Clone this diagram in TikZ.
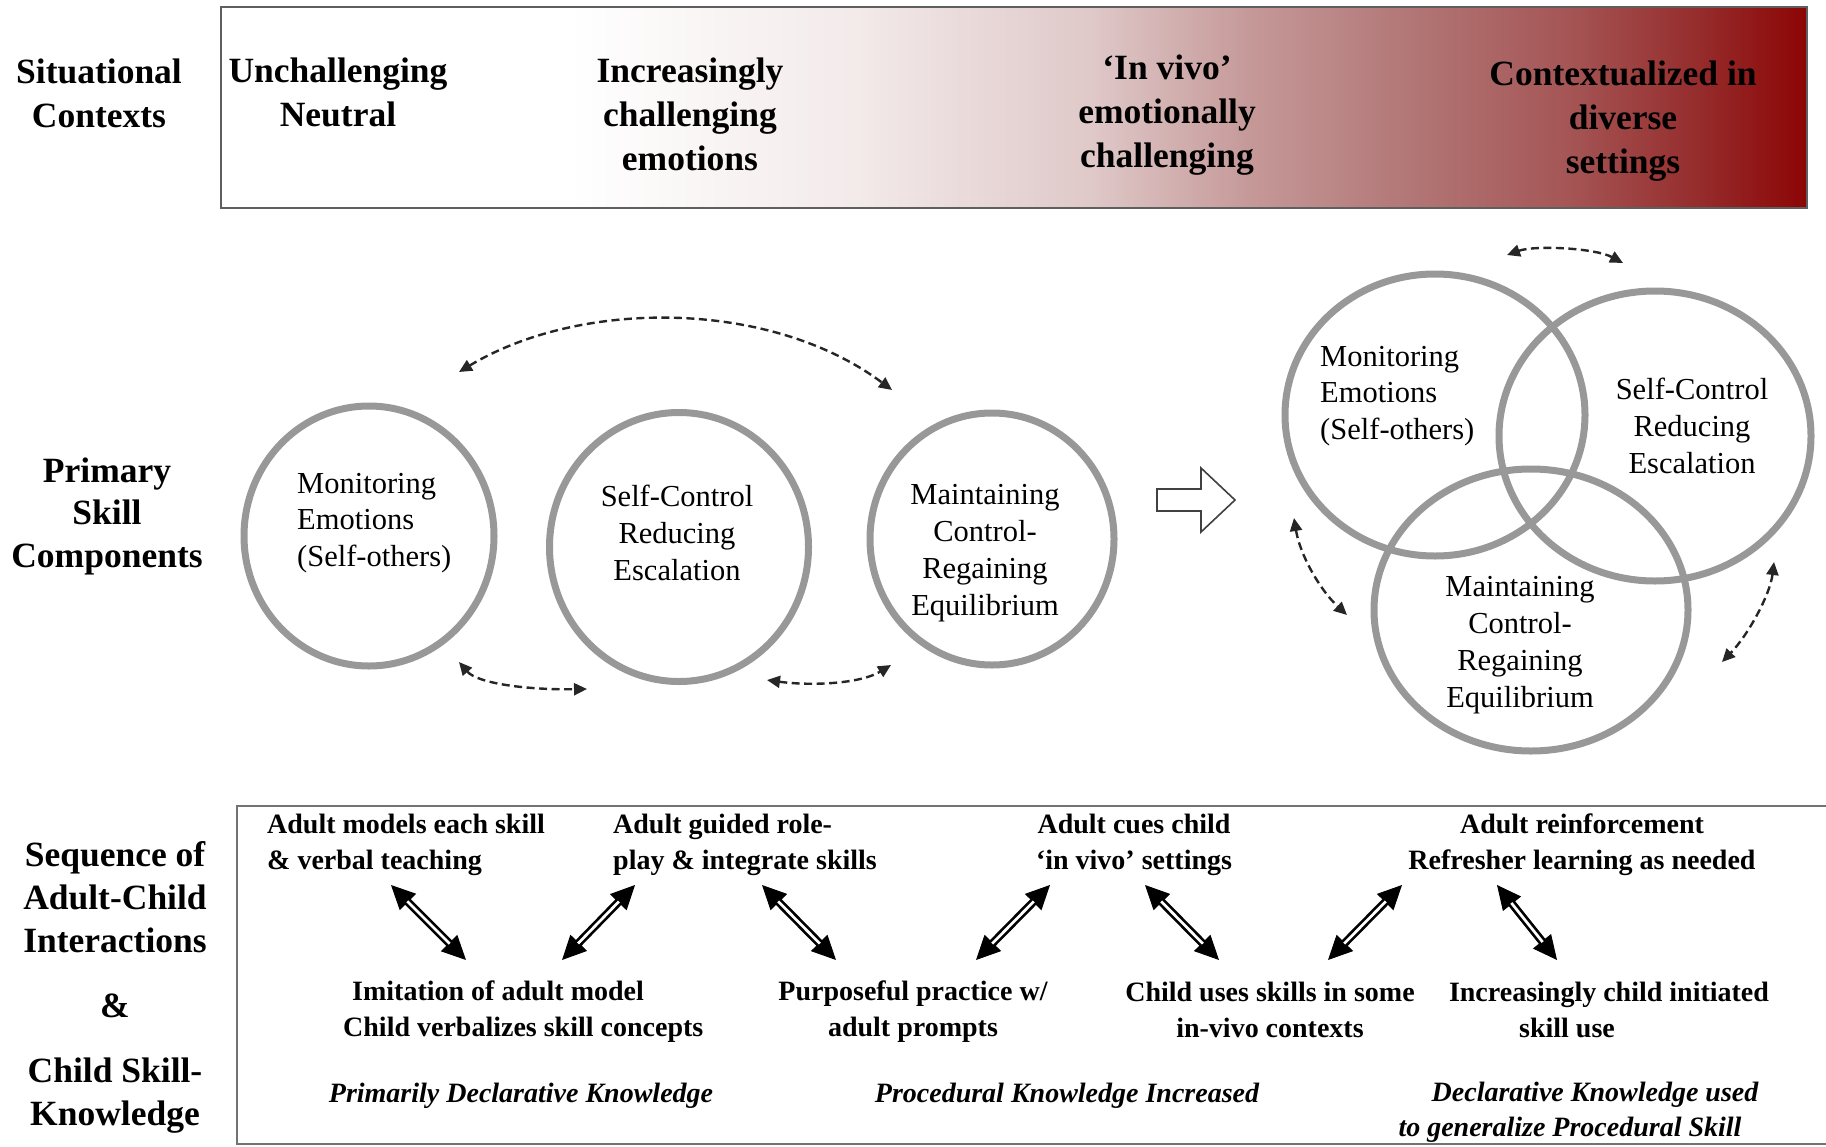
\documentclass[tikz,border=0pt]{standalone}
\usepackage{fontspec}
\setmainfont{Liberation Serif}
\usetikzlibrary{arrows.meta,shapes.geometric}
\definecolor{ringgray}{RGB}{152,152,152}
\definecolor{bannerline}{RGB}{95,95,95}
\definecolor{boxline}{RGB}{115,115,115}
\pgfdeclarehorizontalshading{bannershade}{100bp}{
 rgb(0bp)=(1,1,1); rgb(25bp)=(1,1,1); rgb(36bp)=(1,1,1);
 rgb(45bp)=(0.953,0.918,0.918); rgb(52.5bp)=(0.875,0.784,0.784);
 rgb(57.5bp)=(0.773,0.596,0.596); rgb(62.5bp)=(0.698,0.463,0.463);
 rgb(67.5bp)=(0.647,0.333,0.333); rgb(71.5bp)=(0.588,0.176,0.176);
 rgb(75bp)=(0.55,0.02,0.02); rgb(100bp)=(0.55,0.02,0.02)}
\tikzset{
 lab/.style={font=\fontsize{35.5}{44}\selectfont\bfseries, align=center, inner sep=0pt},
 ring/.style={ellipse, draw=ringgray, line width=7pt, inner sep=0pt},
 ctext/.style={font=\fontsize{30.5}{36.8}\selectfont, inner sep=0pt},
 stxt/.style={font=\fontsize{28}{36}\selectfont\bfseries, inner sep=0pt},
 ktxt/.style={font=\fontsize{28}{35}\selectfont\bfseries\itshape, inner sep=0pt, align=center},
 dasharr/.style={draw=black!85, line width=2.4pt, dash pattern=on 8pt off 4.5pt,
   {Triangle[length=13pt,width=12pt]}-{Triangle[length=13pt,width=12pt]}},
 dblhead/.style={draw=black, line width=1pt,
   {Triangle[length=24pt,width=23pt]}-{Triangle[length=24pt,width=23pt]}},
 dblshaft/.style={draw=black, double=white, double distance=2.7pt, line width=2.7pt,
   shorten <=23pt, shorten >=23pt},
}
\begin{document}
\begin{tikzpicture}[x=1pt,y=-1pt]
\useasboundingbox (0,0) rectangle (1826,1146);

% ---------- Situational contexts ----------
\node[lab] (sit) at (99,93) {Situational\\Contexts};
\node[draw=bannerline, line width=2.5pt, shading=bannershade, minimum width=1586pt,
      minimum height=201pt, inner sep=0pt] (banner) at (1014,107.5) {};
\node[lab] (cun) at (338,92) {Unchallenging\\Neutral};
\node[lab] (cinc) at (690,114) {Increasingly\\challenging\\emotions};
\node[lab] (cviv) at (1167,115) {‘In vivo’\\emotionally\\challenging};
\node[lab] (cctx) at (1623,121) {Contextualized in\\diverse\\settings};

% ---------- Primary skill components ----------
\node[lab, font=\fontsize{35.5}{42.5}\selectfont\bfseries] (psc) at (107,516) {Primary\\Skill\\Components};

\node[ring, minimum width=250pt, minimum height=260pt] (r1) at (369,536) {};
\node[ring, minimum width=259pt, minimum height=269pt] (r2) at (679,547) {};
\node[ring, minimum width=244pt, minimum height=252pt] (r3) at (992,539) {};

\node[ctext, align=left, anchor=west] (t1) at (297,523) {Monitoring\\Emotions\\(Self-others)};
\node[ctext, align=center] (t2) at (677,533) {Self-Control\\Reducing\\Escalation};
\node[ctext, align=center] (t3) at (985,553) {Maintaining\\Control-\\Regaining\\Equilibrium};

\coordinate (d1a) at (459,372);
\coordinate (d1b) at (892,390);
\coordinate (d2a) at (459,662);
\coordinate (d2b) at (587,689);
\coordinate (d3a) at (767,680);
\coordinate (d3b) at (891,665);
\draw[dasharr] (d1a) .. controls (580,299) and (770,299) .. (d1b);
\draw[dasharr] (d2a) .. controls (478,684) and (530,690) .. (d2b);
\draw[dasharr] (d3a) .. controls (810,686) and (860,684) .. (d3b);

% hollow block arrow
\draw[draw=black!75, line width=1.6pt, fill=white, line join=miter]
  (1157,489) -- (1201,489) -- (1201,468) -- (1235,500) -- (1201,532) -- (1201,511) -- (1157,511) -- cycle;

% Venn
\node[ring, minimum width=300pt, minimum height=282pt] (v1) at (1435,415) {};
\node[ring, minimum width=312pt, minimum height=290pt] (v2) at (1655,436) {};
\node[ring, minimum width=314pt, minimum height=282pt] (v3) at (1531,610) {};
\node[ctext, align=left, anchor=west] (u1) at (1320,396) {Monitoring\\Emotions\\(Self-others)};
\node[ctext, align=center] (u2) at (1692,426) {Self-Control\\Reducing\\Escalation};
\node[ctext, align=center] (u3) at (1520,645) {Maintaining\\Control-\\Regaining\\Equilibrium};

\coordinate (e1a) at (1507,255);
\coordinate (e1b) at (1623,263);
\coordinate (e2a) at (1294,518);
\coordinate (e2b) at (1347,615);
\coordinate (e3a) at (1774,562);
\coordinate (e3b) at (1722,662);
\draw[dasharr] (e1a) .. controls (1535,245) and (1595,248) .. (e1b);
\draw[dasharr] (e2a) .. controls (1300,555) and (1320,590) .. (e2b);
\draw[dasharr] (e3a) .. controls (1770,595) and (1748,635) .. (e3b);

% ---------- Sequence ----------
\node[lab, font=\fontsize{35.5}{43}\selectfont\bfseries] (seq) at (115,987)
  {Sequence of\\Adult-Child\\Interactions\\[22pt]\&\\[22pt]Child Skill-\\Knowledge};
\draw[boxline, line width=2.2pt] (1830,806) -- (237,806) -- (237,1144) -- (1830,1144);

\node[stxt, align=left, anchor=west] (a1) at (267,845) {Adult models each skill\\\& verbal teaching};
\node[stxt, align=left, anchor=west] (a2) at (613,845) {Adult guided role-\\play \& integrate skills};
\node[stxt, align=center] (a3) at (1134,845) {Adult cues child\\‘in vivo’ settings};
\node[stxt, align=center] (a4) at (1582,845) {Adult reinforcement\\Refresher learning as needed};

\node[stxt, align=left, anchor=west] (b1) at (343,1012) {\hspace*{9pt}Imitation of adult model\\Child verbalizes skill concepts};
\node[stxt, align=center] (b2) at (913,1012) {Purposeful practice w/\\adult prompts};
\node[stxt, align=center] (b3) at (1270,1010) {Child uses skills in some\\in-vivo contexts};
\node[stxt, align=center] (b4) at (1609,1010) {Increasingly child initiated\\skill use\hspace*{84pt}};

\node[ktxt] (k1) at (521,1096) {Primarily Declarative Knowledge};
\node[ktxt] (k2) at (1067,1096) {Procedural Knowledge Increased};
\node[ktxt] (k3) at (1570,1112) {\hspace*{50pt}Declarative Knowledge used\\to generalize Procedural Skill};

% double arrows
\coordinate (p1a) at (391,885); \coordinate (p1b) at (466,960);
\coordinate (p2a) at (635,885); \coordinate (p2b) at (562,960);
\coordinate (p3a) at (762,885); \coordinate (p3b) at (836,960);
\coordinate (p4a) at (1050,885); \coordinate (p4b) at (976,960);
\coordinate (p5a) at (1145,885); \coordinate (p5b) at (1219,960);
\coordinate (p6a) at (1402,885); \coordinate (p6b) at (1328,960);
\coordinate (p7a) at (1497,885); \coordinate (p7b) at (1557,960);
\foreach \i in {1,...,7}{
  \draw[dblhead] (p\i a) -- (p\i b);
  \draw[dblshaft] (p\i a) -- (p\i b);
}
\end{tikzpicture}
\end{document}
